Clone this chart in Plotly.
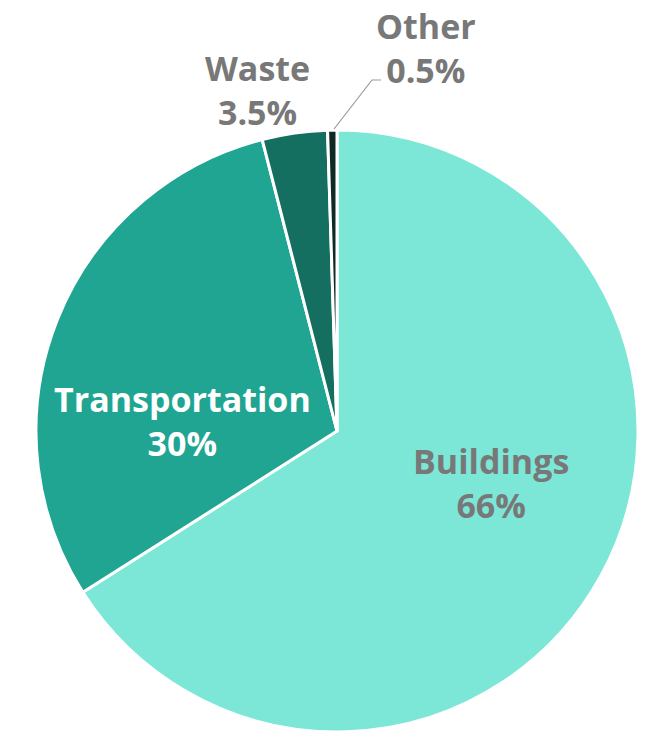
import plotly.graph_objects as go

categories = ["Buildings", "Transportation", "Waste", "Other"]
shares = [66, 30, 3.5, 0.5]
share_labels = ["66%", "30%", "3.5%", "0.5%"]
colors = ["#7de7d7", "#1fa592", "#146f61", "#0f2924"]
label_colors = ["#787878", "#ffffff", "#787878", "#787878"]
# label centres in pixels (x, y from top), before page offset
OFF = 8
label_pos = [(491, 483), (182, 421), (257, 90), (426, 48)]

W, H = 650, 743
cx, cy, R = 337 - OFF, 431 - OFF, 301

fig = go.Figure(go.Pie(
    labels=categories,
    values=shares,
    sort=False,
    direction="clockwise",
    rotation=0,
    textinfo="none",
    hoverinfo="label+percent",
    marker=dict(colors=colors, line=dict(color="#ffffff", width=3)),
    domain=dict(x=[(cx - R) / W, (cx + R) / W],
                y=[1 - (cy + R) / H, 1 - (cy - R) / H]),
    showlegend=False,
))

for name, lab, col, (px, py) in zip(categories, share_labels, label_colors, label_pos):
    fig.add_annotation(
        x=(px - OFF) / W, y=1 - (py - OFF) / H, xref="paper", yref="paper",
        text=f"<b>{name}<br>{lab}</b>", showarrow=False,
        xanchor="center", yanchor="middle", align="center",
        font=dict(family="Open Sans, Liberation Sans, Arial, sans-serif", size=34, color=col),
    )

# leader line for "Other"
pts = [(334, 129), (372, 80), (381, 80)]
path = "M " + " L ".join(f"{(x - OFF) / W},{1 - (y - OFF) / H}" for x, y in pts)
fig.add_shape(type="path", xref="paper", yref="paper", path=path,
              line=dict(color="#9a9a9a", width=1.2))

fig.update_layout(
    width=W, height=H,
    margin=dict(l=0, r=0, t=0, b=0),
    paper_bgcolor="#ffffff", plot_bgcolor="#ffffff",
)

fig.write_html("out.html")
